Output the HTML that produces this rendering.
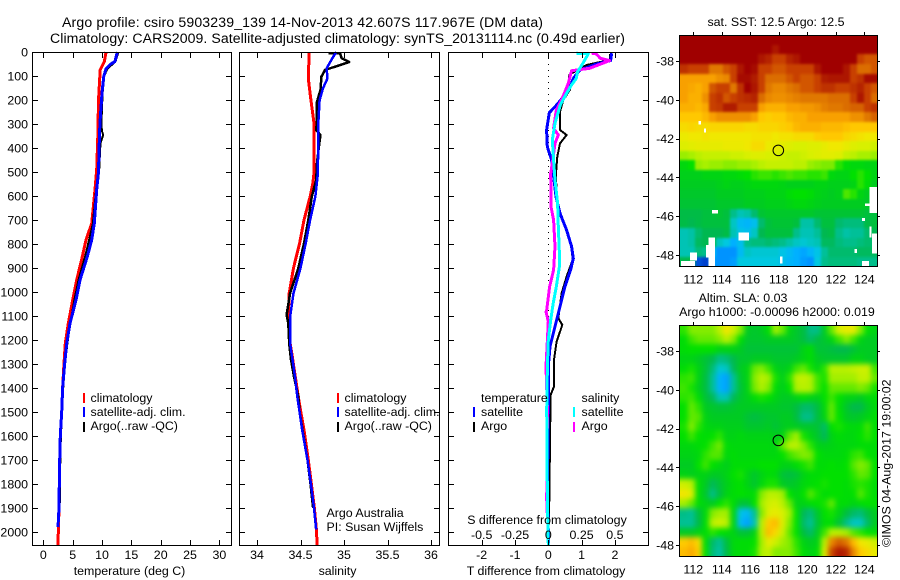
<!DOCTYPE html>
<html lang="en">
<head>
<meta charset="utf-8">
<title>Argo profile csiro 5903239_139</title>
<style>
html,body{margin:0;padding:0;background:#fff;}
svg{display:block;font-family:"Liberation Sans",sans-serif;fill:#000;}
text{font-size:12.4px;}
.title{font-size:14.1px;}
.end{text-anchor:end;}
.mid{text-anchor:middle;}
</style>
</head>
<body>
<svg id="chart" xmlns="http://www.w3.org/2000/svg" width="900" height="580" viewBox="0 0 900 580">
  <defs>
    <filter id="sstSmooth" x="-10%" y="-10%" width="120%" height="120%" color-interpolation-filters="sRGB"><feGaussianBlur stdDeviation="1.3"/></filter>
    <filter id="slaSmooth" x="-10%" y="-10%" width="120%" height="120%" color-interpolation-filters="sRGB"><feGaussianBlur stdDeviation="2.6"/></filter>
    <clipPath id="sstClip"><rect x="680" y="35" width="198" height="232"/></clipPath>
    <clipPath id="slaClip"><rect x="680" y="325" width="198" height="232"/></clipPath>
  </defs>
  <rect x="0" y="0" width="900" height="580" fill="#fff"/>
  <text class="title" x="62" y="27" textLength="481" lengthAdjust="spacing">Argo profile: csiro 5903239_139 14-Nov-2013 42.607S 117.967E (DM data)</text>
  <text class="title" x="50" y="43" textLength="575" lengthAdjust="spacing">Climatology: CARS2009. Satellite-adjusted climatology: synTS_20131114.nc (0.49d earlier)</text>

  <g clip-path="url(#sstClip)"><g id="sstMap" filter="url(#sstSmooth)"></g></g>
  <g clip-path="url(#slaClip)"><g id="slaMap" filter="url(#slaSmooth)"></g></g>
  <g id="maps"></g>
  <g id="lines"></g>
  <g id="axes" fill="none" stroke="#000" stroke-width="1" shape-rendering="crispEdges"></g>
  <g id="labels"></g>

  <text class="mid" x="129.5" y="575">temperature (deg C)</text>
  <text class="mid" x="337.5" y="575">salinity</text>
  <text class="mid" x="546" y="575">T difference from climatology</text>
  <text class="mid" x="547" y="524">S difference from climatology</text>

  <g shape-rendering="crispEdges">
    <rect x="83" y="393" width="2" height="10" fill="#f00"/>
    <rect x="83" y="407" width="2" height="10" fill="#00f"/>
    <rect x="83" y="422" width="2" height="10" fill="#000"/>
  </g>
  <text x="90.5" y="402">climatology</text>
  <text x="90.5" y="416">satellite-adj. clim.</text>
  <text x="90.5" y="430">Argo(..raw -QC)</text>

  <g shape-rendering="crispEdges">
    <rect x="337" y="393" width="2" height="10" fill="#f00"/>
    <rect x="337" y="407" width="2" height="10" fill="#00f"/>
    <rect x="337" y="422" width="2" height="10" fill="#000"/>
  </g>
  <text x="344.5" y="402">climatology</text>
  <text x="344.5" y="416">satellite-adj. clim.</text>
  <text x="344.5" y="430">Argo(..raw -QC)</text>
  <text x="326.5" y="517">Argo Australia</text>
  <text x="326.5" y="531">PI: Susan Wijffels</text>

  <g shape-rendering="crispEdges">
    <rect x="473" y="407" width="2" height="10" fill="#00f"/>
    <rect x="473" y="422" width="2" height="10" fill="#000"/>
    <rect x="573" y="407" width="2" height="10" fill="#0ff"/>
    <rect x="573" y="422" width="2" height="10" fill="#f0f"/>
  </g>
  <text x="481" y="402">temperature</text>
  <text x="481" y="416">satellite</text>
  <text x="481" y="430">Argo</text>
  <text x="581.5" y="402">salinity</text>
  <text x="581.5" y="416">satellite</text>
  <text x="581.5" y="430">Argo</text>

  <text class="mid" x="776" y="26">sat. SST: 12.5 Argo: 12.5</text>
  <text class="mid" x="743" y="302">Altim. SLA: 0.03</text>
  <text class="mid" x="777" y="316">Argo h1000: -0.00096 h2000: 0.019</text>
  <text transform="translate(890.5,547) rotate(-90)">©IMOS 04-Aug-2017 19:00:02</text>
</svg>

<script>
/* ---------- profile data ---------- */
const depthTicks = [0,100,200,300,400,500,600,700,800,900,1000,1100,1200,1300,1400,1500,1600,1700,1800,1900,2000];
const tempTicks = [0,5,10,15,20,25,30];
const salTicks = [34,34.5,35,35.5,36];
const tDiffTicks = [-2,-1,0,1,2];
const sDiffTicks = [-0.5,-0.25,0,0.25,0.5];
const lonTicks = [112,114,116,118,120,122,124];
const latTicks = [-38,-40,-42,-44,-46,-48];

const depthTClim = [0,40,75,200,340,490,573,714,783,853,950,1033,1131,1214,1297,1394,1500,1600,1700,1800,1900,2000,2054];
const tempClim = [10.7,10.4,9.7,9.4,9.3,9.1,8.8,8.25,7.27,6.64,5.69,5,4.26,3.75,3.53,3.3,3.13,2.9,2.8,2.73,2.67,2.55,2.5];
const depthTSat = [0,40,50,70,100,170,300,400,500,573,714,783,853,950,1033,1131,1214,1297,1394,1500,1600,1700,1800,1900,1980];
const tempSat = [12.6,12.2,11.5,10.7,10.3,10,9.65,9.5,9.4,9.1,8.69,8.25,7.5,6.25,5.57,4.55,3.99,3.65,3.3,3.13,2.9,2.8,2.73,2.67,2.5];
const depthTArgo = [0,40,70,100,170,300,330,345,375,400,500,573,714,783,853,950,1033,1131,1214,1297,1394,1500,1600,1700,1800,1900];
const tempArgo = [12.8,12.3,10.9,10.4,10.1,9.9,10,10.2,9.8,9.7,9.5,9,8.45,7.8,7.1,6,5.3,4.6,4.1,3.7,3.4,3.2,3,2.9,2.85,2.8];

const depthSClim = [0,110,200,296,505,550,603,700,797,900,1005,1103,1214,1269,1353,1436,1492,1575,1700,1800,1900,2000,2054];
const salClim = [34.6,34.59,34.62,34.655,34.655,34.64,34.61,34.54,34.49,34.42,34.37,34.36,34.38,34.406,34.44,34.475,34.5,34.54,34.59,34.625,34.66,34.685,34.69];
const depthSSat = [0,30,68,110,150,200,296,505,603,700,797,900,1005,1103,1214,1353,1436,1492,1575,1700,1800,1900,1990];
const salSat = [34.91,34.86,34.8,34.81,34.76,34.72,34.705,34.7,34.67,34.61,34.56,34.5,34.42,34.38,34.38,34.437,34.463,34.486,34.52,34.58,34.62,34.655,34.68];
const depthSArgo = [5,5,26,42,68,75,103,158,207,297,325,346,380,463,533,603,700,797,901,1005,1095,1130,1214,1280,1353,1436,1500,1600,1700,1800,1900];
const salArgo = [34.82,34.954,34.973,35.06,34.84,34.78,34.74,34.73,34.69,34.686,34.68,34.73,34.716,34.69,34.68,34.63,34.59,34.54,34.475,34.38,34.34,34.36,34.37,34.39,34.425,34.475,34.49,34.535,34.58,34.615,34.645];

const depthDTArgo = [8,33,54,89,96,131,158,200,249,325,346,381,436,506,603,672,742,811,867,936,1006,1109,1137,1207,1283,1394,1429,1630,1866,2054];
const diffTArgo = [1.85,1.85,1.15,0.7,0.63,0.6,0.65,0.45,0.35,0.35,0.55,0.35,0.27,0.23,0.25,0.35,0.55,0.7,0.73,0.55,0.4,0.3,0.42,0.25,0.17,0.17,0.07,0.05,0.03,0];
const depthDTSat = [5,36,50,75,110,131,179,221,253,325,394,450,506,603,672,742,811,860,908,978,1061,1117,1172,1227,1311,1491,1866,1991,2054];
const diffTSat = [1.9,1.87,1.45,0.95,0.75,0.7,0.5,0.25,0.03,-0.05,-0.03,0.1,0.15,0.23,0.35,0.55,0.7,0.75,0.67,0.5,0.35,0.25,0.15,0.05,0,0,-0.03,0,0];
const depthDSSat = [5,8,47,82,110,137,179,221,297,367,450,533,631,728,839,894,978,1047,1117,1200,1311,1491,1866,2054];
const diffSSat = [0.21,0.3,0.26,0.22,0.21,0.175,0.13,0.09,0.05,0.03,0.04,0.05,0.07,0.075,0.083,0.083,0.06,0.037,0.018,0,-0.007,-0.012,-0.007,0];
const depthDSArgo = [5,8,26,36,68,78,131,186,242,318,346,381,464,506,644,700,811,908,978,1075,1082,1123,1200,1311,1491,1866,1936];
const diffSArgo = [0.325,0.36,0.39,0.46,0.31,0.175,0.15,0.11,0.06,0.04,0.075,0.05,0.03,0.018,0.02,0.04,0.05,0.04,0.01,-0.012,-0.017,0,-0.007,-0.017,-0.007,-0.012,-0.007];

/* ---------- map data: sea-surface temperature (deg C), rows north to south ---------- */
const sstRows = [
[16,16,16,16,16,16,16,16,16,16,16,16,16,16,16,16,16,16,16,16,16,16,16,16,16,16,16,16],
[16,16,16,16,16,16,16,16,16,16,16,16,16,15.6,16,16,16,16,16,16,16,16,16,16,16,16,16,16],
[16,16,16,16,16,16,16,16,16,16,16,15.6,15.4,15,15,15.4,15.6,16,16,16,16,16,16,16,16,15,14.8,14.8],
[15.2,15,15,15,14.5,14.5,14.8,15,15.6,16,15.8,15,15,14.8,14.8,15,15,15,15,15.6,16,16,16,15.6,15,14.6,14.6,14.8],
[14,14,14,14,14,14.2,14.3,15,15.8,15.8,15.5,15,14.6,14.6,14.6,14.8,15,14.8,14.8,15,15.5,15.6,15.6,15.6,15,15.2,15.8,15.8],
[14,13.9,13.8,14,14.8,15,15,14.5,15.2,16,15.6,15,14.5,14.3,14.3,14.5,14.6,14.8,14.8,15,15.2,15.2,15,15,15.2,15.4,15,14.8],
[14,13.8,13.8,14.2,15,15.2,14.8,15,15.2,15.3,15.4,14.6,14.3,14.2,14.2,14.3,14.4,14.5,14.5,14.5,14.5,14.6,14.6,14.6,15,15.6,15,14.6],
[13.8,13.8,13.7,13.9,15,15.1,15.5,15.5,15,15,15,14,13.8,13.8,13.8,14,14,14.1,14.1,14.2,14.4,14.5,14.5,14.6,14.7,14.7,15,15.2],
[13.5,13.5,13.5,13.7,14,14.2,14.2,14.2,14.2,14.2,14,13.5,13.4,13.5,13.5,13.7,13.8,13.8,14,14,14,14,14,14,14.2,14.2,14.5,14.7],
[13.2,13.3,13.2,13.2,13.3,13.3,13.3,13.3,13.3,13.2,13.2,13.3,13.3,13.3,13.4,13.5,13.7,13.8,13.8,13.8,13.7,13.7,13.7,13.6,13.5,13.5,13.5,13.5],
[12.9,13,13,13.1,13,13,13,13,13,13,13.1,13.1,13.1,13,13.1,13.1,13.2,13.2,13.2,13.4,13.5,13.5,13.5,13.3,13.2,13.1,13,13],
[12.6,12.7,12.8,12.8,12.8,12.8,12.9,12.9,12.9,13,13.2,13.2,12.9,12.8,12.7,12.6,12.5,12.5,12.6,12.6,12.8,13,13,12.8,12.6,12.5,12.5,12.4],
[11.9,12,12.2,12.3,12.3,12.3,12.3,12.4,12.4,12.5,12.6,12.6,12.5,12.5,12.4,12.3,12.3,12.4,12.5,12.6,12.7,12.7,12.6,12.3,12.2,12,12,11.9],
[10.8,11,11.9,12,11.9,11.9,11.8,11.8,11.9,11.9,12,12.2,12.3,12.3,12.3,12.3,12.2,12.2,11.9,11.8,11.7,11.7,11.2,10.9,10.8,10.8,10.7,10.7],
[10.6,10.6,10.6,10.7,10.7,10.7,10.8,10.8,10.9,11,11.2,11.3,11.3,11.2,11.3,11.4,11.3,11.3,11.2,11.2,11.3,10.8,10.7,10.7,11,11.2,11,10.7],
[10.5,10.5,10.5,10.5,10.5,10.6,10.7,10.6,10.6,10.7,10.8,10.8,10.8,10.8,10.7,10.6,10.6,10.6,10.6,10.7,10.7,10.6,10.6,10.6,10.7,11.2,10.9,10.5],
[10.4,10.4,10.4,10.4,10.4,10.5,10.5,10.5,10.5,10.6,10.6,10.6,10.7,10.7,10.7,10.9,11,11,10.9,10.7,10.6,10.5,10.6,11.4,11.2,10.7,10.5,10.4],
[10.3,10.3,10.3,10.3,10.3,10.4,10.4,10.4,10.4,10.5,10.5,10.5,10.6,10.6,10.6,10.7,10.8,10.8,10.7,10.6,10.5,10.5,10.5,10.5,10.5,10.5,10.4,10.4],
[10.1,10.1,10.1,10.2,10.2,10.3,10.2,9.6,9.3,9.4,9.8,10.3,10.4,10.4,10.4,10.4,10.4,10.4,10.4,10.3,10.3,10.3,10.3,10.3,10.3,10.3,10.2,10.2],
[10.1,10,10.1,10.2,10.2,10.2,10.2,9.2,8.7,8.6,8.8,9.8,10.2,10.3,10.3,10.3,10.2,9.4,9.4,9.8,10.2,10.2,9.8,9.7,9.7,9.7,10.1,10.2],
[9.3,9.4,9.8,10,10,10,10.1,9.3,8.9,8.8,9.2,10,10.2,10.2,10.2,10.2,9.6,9.3,9.3,9.5,10,10.1,9.6,9.4,9.5,9.5,9.8,10],
[9.3,9.4,9.9,10,10.1,9.2,9,8.5,8.8,9.6,9.7,9.7,9.8,9.7,9.6,9.4,9.2,9.1,9.2,9.3,9.9,9.9,9.7,9.6,9.6,9.7,9.8,9.8],
[9.3,9.3,9.7,9.6,8.7,8.2,8.2,8.2,8.7,9.2,9.1,9.1,9.1,9.1,8.9,8.7,8.5,8.4,8.6,8.9,9.5,9.8,9.8,9.8,9.8,9.9,9.9,9.9],
[10,10.1,7.7,7.6,8.3,8.2,8.2,8.3,9,9,9,9,9,9,8.8,8.6,8.5,8.3,8.2,9,9.6,9.7,9.7,9.7,9.7,9.6,9.6,9.6]
];
/* missing SST patches, each as lon, north lat, lon span, lat span */
const sstMissing = [
[112.35,-41.09,0.19,0.19],[112.75,-41.49,0.15,0.19],[113.31,-45.68,0.42,0.17],[115.16,-46.85,0.75,0.41],
[113.08,-47.09,0.44,1.51],[112.9,-47.48,0.2,0.64],[111.77,-47.88,0.5,0.4],[111.12,-48.3,1,0.3],
[124.35,-44.5,0.59,1.34],[124.05,-45.34,0.3,0.13],[123.85,-46.1,0.19,0.14],[124.35,-46.54,0.15,0.55],
[124.55,-46.88,0.39,1.03],[123.3,-47.7,0.19,0.19],[123.85,-48.3,0.47,0.3],[118.08,-48.09,0.19,0.34]
];
/* sea level anomaly (m), rows north to south */
const slaRows = [
[0.05,0.1,0.1,0.1,0.1,0.14,0.22,0.16,0.1,-0.02,-0.03,-0.02,0.02,0.12,0.08,0,-0.03,-0.05,-0.1,-0.1,-0.02,0.08,0.17,0.2,0.2,0.1,0.02,0],
[0.02,0.06,0.08,0.08,0.08,0.1,0.14,0.1,0.02,-0.03,-0.03,-0.03,-0.02,-0.02,-0.02,-0.02,-0.03,-0.05,-0.08,-0.05,-0.03,0,0.06,0.1,0.06,0,-0.02,-0.02],
[0.02,0.03,0.03,0.03,0.03,0,0,0,-0.02,-0.04,-0.04,-0.04,-0.04,-0.04,-0.04,-0.04,-0.04,0,0.02,-0.04,-0.04,-0.05,-0.06,-0.06,-0.04,-0.02,-0.02,-0.02],
[0,0,-0.02,-0.04,-0.06,-0.1,-0.09,-0.06,-0.03,-0.03,-0.02,-0.02,-0.02,-0.03,-0.03,-0.03,-0.02,0,0.02,-0.02,-0.03,-0.03,-0.03,-0.03,0,0,-0.02,-0.02],
[0.02,0.04,0,-0.04,-0.09,-0.15,-0.14,-0.07,-0.02,0,0.08,0.1,0.06,0,-0.02,0,0.06,0.08,0.04,0,0.05,0.14,0.14,0.14,0.15,0.16,0.16,0.06],
[0.05,0.06,0,-0.05,-0.11,-0.2,-0.22,-0.11,-0.03,0,0.1,0.14,0.12,0.04,-0.01,0.05,0.14,0.15,0.13,0.06,0.04,0.12,0.12,0.12,0.12,0.15,0.15,0.08],
[0.06,0.04,-0.01,-0.05,-0.11,-0.2,-0.22,-0.11,-0.04,0,0.09,0.13,0.1,0.02,-0.01,0.03,0.13,0.14,0.13,0.06,0.03,0.08,0.08,0.08,0.08,0.1,0.08,0.04],
[0.05,0.06,0.02,-0.04,-0.07,-0.13,-0.13,-0.07,-0.03,-0.01,0.02,0.04,0.03,0,-0.02,-0.02,0,0.02,0,-0.01,0.03,0.06,0.03,0,0,-0.02,0.01,0.02],
[0.03,0.08,0.05,-0.02,-0.03,-0.04,-0.04,-0.03,-0.02,-0.02,-0.02,-0.02,-0.02,-0.02,-0.03,-0.03,-0.05,-0.08,-0.08,-0.05,0.01,0.08,0.02,-0.03,-0.06,-0.06,-0.02,0.01],
[0.03,0.08,0.07,0,-0.02,-0.02,-0.02,-0.02,-0.02,-0.04,-0.05,-0.04,-0.03,-0.03,-0.02,-0.02,-0.05,-0.1,-0.1,-0.05,0,0.08,0.03,-0.02,-0.03,-0.02,0,0.02],
[0.04,0.1,0.05,0.01,0,0,-0.01,-0.01,-0.01,-0.03,-0.03,-0.03,-0.02,-0.04,-0.02,-0.01,-0.02,-0.03,-0.03,-0.04,-0.08,0.03,0.04,0.02,0.01,0.02,0.06,0.02],
[0.03,0.06,0.03,0.02,0.03,0.05,0,0,0.01,0,0,0,0,-0.01,0,0.08,0.12,0.04,0,-0.03,-0.07,0,0.02,0.01,0.01,0.03,0.05,0.03],
[0.01,0.01,0.02,0.03,0.06,0.09,0.02,0.01,0.01,0.01,0.01,0.01,0.01,0,0.08,0.14,0.14,0.1,0.05,0,-0.01,0,0.01,0.01,0.01,0.02,0.02,0.02],
[0,0,0.01,0.05,0.07,0.07,0.01,0.02,0.01,0.01,0.01,0.01,0.01,0.01,0.03,0.06,0.08,0.1,0.09,0.03,0.01,0.01,0.01,0.02,0.05,0.06,0.03,0.02],
[-0.02,-0.02,0.03,0.06,0.03,0.01,-0.01,0.02,0.02,0.02,0.02,0.03,0.03,0.03,0,0,0.02,0.04,0.06,0.02,0.02,0.03,0.02,0.03,0.07,0.1,0.08,0.03],
[0,-0.01,0,0,-0.02,-0.02,0,0.03,0.04,0,-0.03,0,0.02,0.01,-0.04,-0.05,-0.04,0,0.02,0.02,0.03,0.03,0.03,0.03,0.05,0.08,0.07,0.03],
[0.16,0.14,0.02,-0.02,-0.07,-0.04,-0.01,0.02,0.03,0,-0.03,0.01,0.04,0.04,-0.02,-0.03,-0.02,0.01,0.02,0.03,0.04,0.03,0.03,0.02,0.04,0.05,0.04,0.02],
[0.22,0.18,0.02,-0.03,-0.1,-0.05,0,0.02,0.03,0.02,0.02,0.1,0.14,0.14,0.12,0.03,0,0.03,0.07,0.04,0.02,0.03,0.03,0.02,0.03,0.07,0.04,0.02],
[0.12,0.08,0.02,0,-0.02,0.03,0.05,0.02,-0.04,-0.04,0.03,0.12,0.16,0.17,0.14,0.08,0,0,0.02,0.03,0.04,0.08,0.02,0.02,0,0.02,0.03,0.03],
[-0.1,-0.11,-0.05,0.01,0.1,0.12,0.12,0,-0.17,-0.19,-0.11,0.1,0.18,0.2,0.17,0.12,0.03,-0.07,-0.09,-0.03,0.03,0.04,0,-0.05,-0.08,-0.09,-0.05,-0.02],
[-0.11,-0.11,-0.06,0.02,0.14,0.16,0.14,0,-0.19,-0.22,-0.13,0.14,0.26,0.28,0.18,0.1,0.03,-0.08,-0.11,-0.04,0.02,0.02,-0.04,-0.1,-0.14,-0.14,-0.08,-0.02],
[-0.02,-0.02,0,0.02,0.05,0.03,0.02,0,-0.04,-0.04,0,0.14,0.28,0.24,0.16,0.08,0.03,-0.05,-0.08,-0.02,0.06,0.14,0.14,0.12,0.07,0.05,0.03,0.02],
[0.26,0.28,0.24,0.02,-0.08,-0.11,-0.05,0.01,0.02,0.02,0.03,0.12,0.2,0.16,0.12,0.1,0.05,0,-0.02,0,0.14,0.34,0.38,0.36,0.28,0.22,0.2,0.16],
[0.28,0.3,0.26,0.03,-0.09,-0.12,-0.06,0.01,0.02,0.02,0.04,0.13,0.15,0.1,0.1,0.1,0.06,0.02,0,0.02,0.18,0.4,0.46,0.44,0.34,0.26,0.24,0.2]
];
const profileLon = 117.967;
const profileLat = -42.607;

/* ---------- scales and helpers ---------- */
const SVGNS = 'http://www.w3.org/2000/svg';
const mapsLayer = document.getElementById('maps');
const linesLayer = document.getElementById('lines');
const axesLayer = document.getElementById('axes');
const labelsLayer = document.getElementById('labels');
const palette = ['#0030c0','#0080ff','#00b0ff','#00c8e0','#00c098','#00b850','#00cc20','#00e000','#60e800','#a8f000','#d8f000','#f0e800','#ffc800','#f8a000','#e07800','#c84000','#b01c00','#a00000'];

function shape(parent, tag, attrs) {
  const el = document.createElementNS(SVGNS, tag);
  for (const k in attrs) el.setAttribute(k, attrs[k]);
  parent.appendChild(el);
  return el;
}
function hexRgb(h) { return [1,3,5].map(i => parseInt(h.substr(i,2),16)); }
function ramp(frac) {
  const f = Math.max(0, Math.min(1, frac)) * (palette.length - 1);
  const i = Math.min(palette.length - 2, Math.floor(f));
  const a = hexRgb(palette[i]), b = hexRgb(palette[i+1]);
  const t = f - i;
  return 'rgb(' + a.map((v,n) => Math.round(v + (b[n]-v)*t)).join(',') + ')';
}
const depthY = d => 52 + d * 0.24;
const tempX = v => 43.3 + v * 5.87;
const salX = v => 257 + (v - 34) * 87;
const tDiffX = v => 548.3 + v * 33.3;
const sDiffX = v => 548.3 + v * 133.2;
const lonX = v => 693.3 + (v - 112) * 14.25;
const latFrac = v => (-38 - v) * 19.4;
const sstColor = v => ramp((v - 7.5) / 8.5);
const slaColor = v => ramp((v + 0.3) / 0.8);

function drawLine(depths, values, xFn, color, width, name) {
  const pts = values.map((v,i) => xFn(v).toFixed(1) + ',' + depthY(depths[i]).toFixed(1)).join(' ');
  const el = shape(linesLayer, 'polyline', {points: pts, fill: 'none', stroke: color, 'stroke-width': width, 'shape-rendering': 'crispEdges', 'stroke-linejoin': 'round'});
  
  
}

/* ---------- maps ---------- */
function drawMap(group, rows, colorFn, top, cellName) {
  const west = 111.12, east = 124.94, north = -36.66, south = -48.6;
  const nr = rows.length, nc = rows[0].length;
  rows.forEach((row, r) => {
    row.forEach((v, c) => {
      let x0 = Math.round(lonX(west + (east - west) * c / nc));
      let x1 = Math.round(lonX(west + (east - west) * (c + 1) / nc));
      let y0 = Math.round(top + latFrac(north + (south - north) * r / nr) + 26);
      let y1 = Math.round(top + latFrac(north + (south - north) * (r + 1) / nr) + 26);
      if (c === 0) x0 -= 14;
      if (c === nc - 1) x1 += 14;
      if (r === 0) y0 -= 14;
      if (r === nr - 1) y1 += 14;
      const el = shape(group, 'rect', {x: x0, y: y0, width: x1 - x0, height: y1 - y0, fill: colorFn(v), 'shape-rendering': 'crispEdges'});
      
      
    });
  });
}
drawMap(document.getElementById('sstMap'), sstRows, sstColor, 35, 'sst-cell');
drawMap(document.getElementById('slaMap'), slaRows, slaColor, 325, 'sla-cell');
sstMissing.forEach(g => {
  const el = shape(mapsLayer, 'rect', {x: lonX(g[0]), y: 61 + latFrac(g[1]), width: g[2] * 14.25, height: g[3] * 19.4, fill: '#fff', 'shape-rendering': 'crispEdges'});
  
  
});

/* ---------- profile lines ---------- */
drawLine(depthTClim, tempClim, tempX, '#f00', 3, 'temperature-climatology-line');
drawLine(depthTArgo, tempArgo, tempX, '#000', 2, 'temperature-argo-line');
drawLine(depthTSat, tempSat, tempX, '#00f', 3, 'temperature-satellite-line');
drawLine(depthSClim, salClim, salX, '#f00', 3, 'salinity-climatology-line');
drawLine(depthSArgo, salArgo, salX, '#000', 2.5, 'salinity-argo-line');
drawLine(depthSSat, salSat, salX, '#00f', 2.5, 'salinity-satellite-line');

const zeroLine = shape(linesLayer, 'line', {x1: 548.5, x2: 548.5, y1: 52, y2: 545, stroke: '#000', 'stroke-width': 1, 'stroke-dasharray': '1 5', 'shape-rendering': 'crispEdges'});



drawLine(depthDTArgo, diffTArgo, tDiffX, '#000', 2, 't-difference-argo-line');
drawLine(depthDTSat, diffTSat, tDiffX, '#00f', 3, 't-difference-satellite-line');
drawLine(depthDSArgo, diffSArgo, sDiffX, '#f0f', 3, 's-difference-argo-line');
drawLine(depthDSSat, diffSSat, sDiffX, '#0ff', 3, 's-difference-satellite-line');

/* ---------- axes ---------- */
function drawPanel(l, r, xTicks, xFn, name) {
  const box = shape(axesLayer, 'rect', {x: l + 0.5, y: 52.5, width: r - l, height: 493});
  
  
  xTicks.forEach(t => {
    const x = Math.round(xFn(t)) + 0.5;
    const top = shape(axesLayer, 'line', {x1: x, x2: x, y1: 53, y2: 58});
    
    
    const bot = shape(axesLayer, 'line', {x1: x, x2: x, y1: 540, y2: 545});
    
    
  });
  depthTicks.forEach(d => {
    const y = Math.round(depthY(d)) + 0.5;
    const a = shape(axesLayer, 'line', {x1: l + 1, x2: l + 6, y1: y, y2: y});
    
    
    const b = shape(axesLayer, 'line', {x1: r - 5, x2: r, y1: y, y2: y});
    
    
  });
}
drawPanel(32, 231, tempTicks, tempX, 'temperature-panel');
drawPanel(239, 439, salTicks, salX, 'salinity-panel');
drawPanel(448, 648, tDiffTicks, tDiffX, 'difference-panel');

function drawMapAxes(top, bottom, name) {
  const box = shape(axesLayer, 'rect', {x: 679.5, y: top + 0.5, width: 198, height: bottom - top});
  
  
  lonTicks.forEach(v => {
    const x = Math.round(lonX(v)) + 0.5;
    const t = shape(axesLayer, 'line', {x1: x, x2: x, y1: top - 3, y2: top});
    
    
  });
  latTicks.forEach(v => {
    const y = Math.round(top + 26 + latFrac(v)) + 0.5;
    const a = shape(axesLayer, 'line', {x1: 676, x2: 679, y1: y, y2: y});
    
    
    const b = shape(axesLayer, 'line', {x1: 878, x2: 880, y1: y, y2: y});
    
    
  });
}
drawMapAxes(35, 266, 'sst-map');
drawMapAxes(325, 556, 'sla-map');

[35, 325].forEach(top => {
  const c = shape(axesLayer, 'circle', {cx: lonX(profileLon), cy: top + 26 + latFrac(profileLat), r: 5.3, stroke: '#000', fill: 'none', 'shape-rendering': 'auto'});
  
  
});

/* ---------- tick labels ---------- */
function label(str, x, y, anchor, name) {
  const el = shape(labelsLayer, 'text', {x: x, y: y, 'text-anchor': anchor});
  el.textContent = str;
  
  
}
depthTicks.forEach(d => label(String(d), 28, depthY(d) + 4.5, 'end', 'depth-tick-label'));
tempTicks.forEach(t => label(String(t), tempX(t), 559, 'middle', 'temperature-tick-label'));
salTicks.forEach(t => label(String(t), salX(t), 559, 'middle', 'salinity-tick-label'));
tDiffTicks.forEach(t => label(String(t), tDiffX(t), 559, 'middle', 't-difference-tick-label'));
sDiffTicks.forEach(t => label(String(t), sDiffX(t), 539, 'middle', 's-difference-tick-label'));
[283.5, 573.5].forEach(y => {
  lonTicks.forEach(v => label(String(v), lonX(v), y, 'middle', 'longitude-tick-label'));
});
[35, 325].forEach(top => {
  latTicks.forEach(v => label(String(v), 674, top + 26 + latFrac(v) + 4.5, 'end', 'latitude-tick-label'));
});
</script>
</body>
</html>
